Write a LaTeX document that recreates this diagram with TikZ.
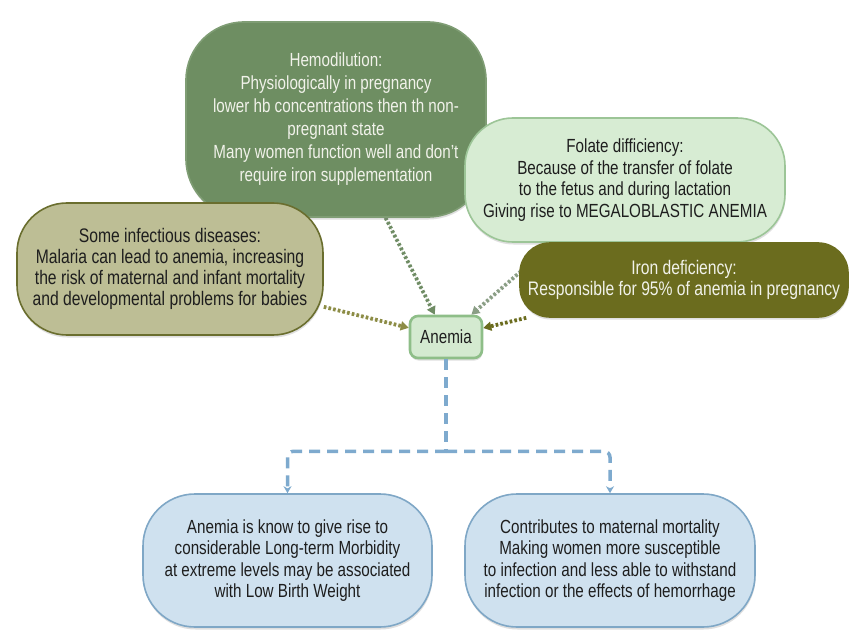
\documentclass[tikz,border=0pt]{standalone}
\usepackage{fontspec}
\setmainfont[FakeStretch=0.8]{Liberation Sans}
\usetikzlibrary{arrows.meta,backgrounds,shadows}
\definecolor{hemoF}{HTML}{6E8E62}
\definecolor{hemoD}{HTML}{7F9D74}
\definecolor{folF}{HTML}{D7ECD3}
\definecolor{folD}{HTML}{9CC597}
\definecolor{infF}{HTML}{BDBE95}
\definecolor{infD}{HTML}{6A6E2E}
\definecolor{ironF}{HTML}{6B6C1E}
\definecolor{anF}{HTML}{D4EAD0}
\definecolor{anD}{HTML}{8EBE88}
\definecolor{blF}{HTML}{CFE1EF}
\definecolor{blD}{HTML}{7FA7C6}
\definecolor{dashC}{HTML}{7EAACE}
\definecolor{txt}{HTML}{1E1E1E}
\definecolor{lighttxt}{HTML}{F1F2EA}
\definecolor{hemoL}{HTML}{6F8C64}
\definecolor{folL}{HTML}{8A9E85}
\definecolor{infL}{HTML}{8C8C45}
\definecolor{ironL}{HTML}{6B6C1E}
\begin{document}
\begin{tikzpicture}[x=1pt,y=-1pt,
  box/.style={draw, line width=1.6pt, align=center, inner sep=0pt, text=txt,
    font=\fontsize{19}{21.5}\selectfont,
    drop shadow={shadow xshift=0.5pt, shadow yshift=-2.5pt, opacity=0.25}},
  dotconn/.style={line width=3.8pt, dash pattern=on 2.6pt off 2.2pt,
    -{Triangle[length=8pt,width=9pt]}},
  dashconn/.style={line width=3.5pt, draw=dashC, dash pattern=on 11pt off 7pt},
  tipd/.style={-{Stealth[length=7pt,width=8pt]}}
]
\useasboundingbox (0,0) rectangle (864,631);

\node[box, fill=hemoF, draw=hemoD, text=lighttxt, rounded corners=58pt,
  minimum width=300pt, minimum height=195pt,
  font=\fontsize{19}{23}\selectfont] (hemo) at (336,119.5)
  {Hemodilution:\\Physiologically in pregnancy\\lower hb concentrations then th non-\\pregnant state\\Many women function well and don't\\require iron supplementation};

\node[box, fill=infF, draw=infD, rounded corners=50pt,
  minimum width=306pt, minimum height=132pt,
  font=\fontsize{19.6}{20.8}\selectfont] (infect) at (170,269)
  {Some infectious diseases:\\Malaria can lead to anemia, increasing\\the risk of maternal and infant mortality\\and developmental problems for babies};

\node[box, fill=folF, draw=folD, rounded corners=48pt,
  minimum width=320pt, minimum height=124pt] (folate) at (625,180)
  {Folate difficiency:\\Because of the transfer of folate\\to the fetus and during lactation\\Giving rise to MEGALOBLASTIC ANEMIA};

\node[box, fill=ironF, draw=ironF, text=lighttxt, rounded corners=30pt,
  minimum width=328pt, minimum height=74pt,
  font=\fontsize{19.6}{21.5}\selectfont] (iron) at (684,280)
  {Iron deficiency:\\Responsible for 95\% of anemia in pregnancy};

\node[box, fill=anF, draw=anD, line width=2.6pt, rounded corners=8pt,
  minimum width=72pt, minimum height=42pt] (anemia) at (446,337) {Anemia};

\node[box, fill=blF, draw=blD, rounded corners=52pt,
  minimum width=289pt, minimum height=133pt] (bl) at (287.5,560.5)
  {Anemia is know to give rise to\\considerable Long-term Morbidity\\at extreme levels may be associated\\with Low Birth Weight};

\node[box, fill=blF, draw=blD, rounded corners=52pt,
  minimum width=290pt, minimum height=133pt] (br) at (610,560.5)
  {Contributes to maternal mortality\\Making women more susceptible\\to infection and less able to withstand\\infection or the effects of hemorrhage};

\begin{pgfonlayer}{background}
  \fill[white] (0,0) rectangle (864,631);
  \draw[dotconn, draw=hemoL, fill=hemoL] (hemo) -- (anemia);
  \draw[dotconn, draw=folL, fill=folL] (folate) -- (anemia);
  \draw[dotconn, draw=infL, fill=infL] (infect) -- (anemia);
  \draw[dotconn, draw=ironL, fill=ironL] (iron) -- (anemia);
\end{pgfonlayer}

\draw[dashconn] (anemia.south) -- ++(0,92) coordinate (split);
\draw[dashconn, tipd, rounded corners=6pt] (split) -| (bl.north);
\draw[dashconn, tipd, rounded corners=6pt] (split) -| (br.north);
\end{tikzpicture}
\end{document}
